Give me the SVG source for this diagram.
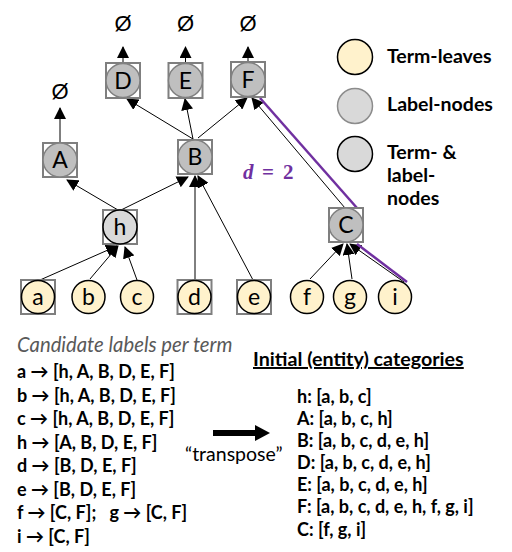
<svg xmlns="http://www.w3.org/2000/svg" width="512" height="552" viewBox="0 0 512 552">
<defs>
<marker id="ah" markerUnits="userSpaceOnUse" markerWidth="12" markerHeight="12" viewBox="0 0 12 12" refX="11" refY="6" orient="auto">
<path d="M0,0 L12,6 L0,12 Z" fill="#000"/>
</marker>
</defs>
<style>
.sq{fill:none;stroke:#7f7f7f;stroke-width:2}
.lab{fill:#bfbfbf;stroke:#808080;stroke-width:1.5}
.leaf{fill:#fff2cc;stroke:#000;stroke-width:1.5}
.tl{fill:#d9d9d9;stroke:#000;stroke-width:1.5}
.nt{font-family:Lato,"Liberation Sans",sans-serif;font-size:23px;text-anchor:middle;fill:#000}
.e{stroke:#000;stroke-width:1;fill:none;marker-end:url(#ah)}
.pu{stroke:#7030a0;stroke-width:2.5;fill:none}
.empty{font-family:"Liberation Sans",sans-serif;font-size:22px;text-anchor:middle;fill:#000}
.leg{font-family:Lato,"Liberation Sans",sans-serif;font-size:19.5px;font-weight:bold;fill:#000}
.li{font-family:Lato,"Liberation Sans",sans-serif;font-size:18px;font-weight:bold;fill:#000}
</style>
<g id="connectors">
<line class="e" x1="123" y1="63" x2="123" y2="47"/>
<line class="e" x1="185.5" y1="63" x2="185.5" y2="47"/>
<line class="e" x1="248" y1="62" x2="248" y2="47"/>
<line class="e" x1="60" y1="143" x2="60" y2="108"/>
<line class="e" x1="193" y1="139" x2="127" y2="99"/>
<line class="e" x1="193" y1="139" x2="185" y2="99"/>
<line class="e" x1="198" y1="138" x2="247" y2="98"/>
<line class="e" x1="345" y1="208" x2="252" y2="98"/>
<line class="e" x1="118" y1="210" x2="67" y2="180"/>
<line class="e" x1="121" y1="210" x2="188" y2="177"/>
<line class="e" x1="195" y1="280" x2="195" y2="176"/>
<line class="e" x1="253" y1="280" x2="198" y2="176"/>
<line class="e" x1="40" y1="280" x2="117" y2="246"/>
<line class="e" x1="90" y1="279" x2="118" y2="246"/>
<line class="e" x1="137" y1="280" x2="125" y2="247"/>
<line class="e" x1="310" y1="279" x2="343" y2="244"/>
<line class="e" x1="352" y1="279" x2="347" y2="244"/>
<line class="e" x1="404" y1="282" x2="350" y2="244"/>
<line class="pu" x1="260" y1="98" x2="357" y2="208"/>
<line class="pu" x1="357" y1="244" x2="407" y2="282"/>
</g>
<g id="empty-labels">
<text class="empty" x="123" y="31">Ø</text>
<text class="empty" x="185.5" y="31">Ø</text>
<text class="empty" x="248" y="31">Ø</text>
<text class="empty" x="60" y="99">Ø</text>
</g>
<g id="node-D"><rect class="sq" x="106" y="63" width="34" height="35"/><circle class="lab" cx="123" cy="80.5" r="17"/><text class="nt" x="123" y="88.5">D</text></g>
<g id="node-E"><rect class="sq" x="168.5" y="63" width="34" height="35"/><circle class="lab" cx="185.5" cy="80.5" r="17"/><text class="nt" x="185.5" y="88.5">E</text></g>
<g id="node-F"><rect class="sq" x="231" y="62" width="34" height="35"/><circle class="lab" cx="248" cy="79.5" r="17"/><text class="nt" x="248" y="87.5">F</text></g>
<g id="node-A"><rect class="sq" x="43" y="143" width="34" height="34"/><circle class="lab" cx="60" cy="160" r="17"/><text class="nt" x="60" y="168">A</text></g>
<g id="node-B"><rect class="sq" x="178" y="140" width="34" height="34"/><circle class="lab" cx="195" cy="157" r="17"/><text class="nt" x="195" y="165">B</text></g>
<g id="node-C"><rect class="sq" x="329" y="208" width="34" height="34"/><circle class="lab" cx="346" cy="225" r="17"/><text class="nt" x="346" y="233">C</text></g>
<g id="node-h"><rect class="sq" x="103" y="210" width="34" height="34"/><circle class="tl" cx="120" cy="227" r="17"/><text class="nt" x="120" y="235">h</text></g>
<g id="node-a"><rect class="sq" x="21" y="280" width="34" height="34"/><circle class="leaf" cx="38" cy="297" r="16.5"/><text class="nt" x="38" y="305">a</text></g>
<g id="node-b"><circle class="leaf" cx="88.5" cy="297" r="16.5"/><text class="nt" x="88.5" y="305">b</text></g>
<g id="node-c"><circle class="leaf" cx="137" cy="297" r="16.5"/><text class="nt" x="137" y="305">c</text></g>
<g id="node-d"><rect class="sq" x="177.5" y="280" width="34" height="34"/><circle class="leaf" cx="194.5" cy="297" r="16.5"/><text class="nt" x="194.5" y="305">d</text></g>
<g id="node-e"><rect class="sq" x="237" y="280" width="34" height="34"/><circle class="leaf" cx="254" cy="297" r="16.5"/><text class="nt" x="254" y="305">e</text></g>
<g id="node-f"><circle class="leaf" cx="307" cy="297" r="16.5"/><text class="nt" x="307" y="305">f</text></g>
<g id="node-g"><circle class="leaf" cx="350" cy="297" r="16.5"/><text class="nt" x="350" y="305">g</text></g>
<g id="node-i"><circle class="leaf" cx="395" cy="297" r="16.5"/><text class="nt" x="395" y="305">i</text></g>
<g id="d-label" font-family="'Liberation Serif',serif" font-size="21" font-weight="bold" fill="#7030a0"><text x="243" y="179"><tspan font-style="italic">d</tspan><tspan x="262">=</tspan><tspan x="283">2</tspan></text></g>
<g id="legend">
<circle cx="355" cy="57" r="17.5" fill="#fff2cc" stroke="#000" stroke-width="1.5"/>
<text class="leg" x="387" y="63">Term-leaves</text>
<circle cx="355" cy="106" r="17.5" fill="#d9d9d9" stroke="#8c8c8c" stroke-width="1.5"/>
<text class="leg" x="387" y="111">Label-nodes</text>
<circle cx="355" cy="154" r="17.5" fill="#d9d9d9" stroke="#000" stroke-width="1.5"/>
<text class="leg" x="387" y="159">Term- &amp;</text>
<text class="leg" x="387" y="182">label-</text>
<text class="leg" x="387" y="205">nodes</text>
</g>
<g id="candidate-list">
<text x="17" y="352" font-family="Lato,'Liberation Sans',sans-serif" font-size="20.3" font-style="italic" fill="#595959">Candidate labels per term</text>
<text class="li" x="17" y="378">a → [h, A, B, D, E, F]</text>
<text class="li" x="17" y="401.5">b → [h, A, B, D, E, F]</text>
<text class="li" x="17" y="425">c → [h, A, B, D, E, F]</text>
<text class="li" x="17" y="448.5">h → [A, B, D, E, F]</text>
<text class="li" x="17" y="472">d → [B, D, E, F]</text>
<text class="li" x="17" y="495.5">e → [B, D, E, F]</text>
<text class="li" x="17" y="519" xml:space="preserve">f → [C, F];   g → [C, F]</text>
<text class="li" x="17" y="542.5">i → [C, F]</text>
</g>
<g id="transpose">
<path d="M213,430 L255,430 L255,425 L270,433 L255,441 L255,436 L213,436 Z" fill="#000"/>
<text x="185" y="461" font-family="Lato,'Liberation Sans',sans-serif" font-size="19.5" fill="#000">“transpose”</text>
</g>
<g id="categories">
<text x="253" y="366" font-family="Lato,'Liberation Sans',sans-serif" font-size="19.7" font-weight="bold" text-decoration="underline" fill="#000">Initial (entity) categories</text>
<text class="li" x="297" y="403">h: [a, b, c]</text>
<text class="li" x="297" y="425">A: [a, b, c, h]</text>
<text class="li" x="297" y="447">B: [a, b, c, d, e, h]</text>
<text class="li" x="297" y="469">D: [a, b, c, d, e, h]</text>
<text class="li" x="297" y="491">E: [a, b, c, d, e, h]</text>
<text class="li" x="297" y="513">F: [a, b, c, d, e, h, f, g, i]</text>
<text class="li" x="297" y="536">C: [f, g, i]</text>
</g>
</svg>
